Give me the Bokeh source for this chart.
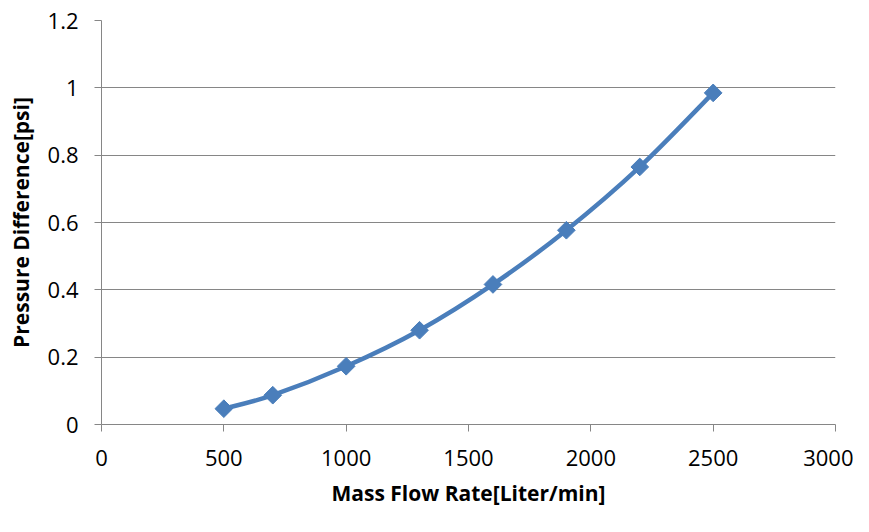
import numpy as np
from bokeh.plotting import figure
from bokeh.models import FixedTicker, Range1d
from bokeh.embed import file_html
from bokeh.resources import INLINE

flow_rate = [500, 700, 1000, 1300, 1600, 1900, 2200, 2500]
pressure_diff = [0.047, 0.087, 0.173, 0.280, 0.416, 0.577, 0.765, 0.985]
x_ticks = [0, 500, 1000, 1500, 2000, 2500, 3000]
y_ticks = [0, 0.2, 0.4, 0.6, 0.8, 1.0, 1.2]
y_tick_labels = ["0", "0.2", "0.4", "0.6", "0.8", "1", "1.2"]

FONT = "Open Sans"
LINE = "#4a7ebb"
GRID = "#868686"

p = figure(width=853, height=516, output_backend="svg", toolbar_location=None,
           x_range=Range1d(0, 3000), y_range=Range1d(0, 1.2),
           min_border_left=101, min_border_right=18, min_border_top=20, min_border_bottom=92)
p.outline_line_color = None
p.background_fill_color = "white"

# smooth curve (Excel-style smoothing) via cubic Bezier segments through the data points
xs = np.array(flow_rate, dtype=float)
ys = np.array(pressure_diff, dtype=float)
n = len(xs)
x0s, y0s, x1s, y1s, cx0, cy0, cx1, cy1 = [], [], [], [], [], [], [], []
for i in range(n - 1):
    pm = i - 1 if i > 0 else i
    pp = i + 2 if i + 2 < n else i + 1
    x0s.append(xs[i]); y0s.append(ys[i])
    x1s.append(xs[i + 1]); y1s.append(ys[i + 1])
    cx0.append(xs[i] + (xs[i + 1] - xs[pm]) / 6.0)
    cy0.append(ys[i] + (ys[i + 1] - ys[pm]) / 6.0)
    cx1.append(xs[i + 1] - (xs[pp] - xs[i]) / 6.0)
    cy1.append(ys[i + 1] - (ys[pp] - ys[i]) / 6.0)
p.bezier(x0=x0s, y0=y0s, x1=x1s, y1=y1s, cx0=cx0, cy0=cy0, cx1=cx1, cy1=cy1,
         line_color=LINE, line_width=4.5)

p.scatter(flow_rate, pressure_diff, marker="square", size=12.5, angle=np.pi / 4,
          fill_color=LINE, line_color=LINE, line_width=1)

# axes
p.xaxis.ticker = FixedTicker(ticks=x_ticks)
p.yaxis.ticker = FixedTicker(ticks=y_ticks)
p.yaxis.major_label_overrides = {t: l for t, l in zip(y_ticks, y_tick_labels)}
p.xaxis.minor_tick_line_color = None
p.yaxis.minor_tick_line_color = None
for ax in (p.xaxis, p.yaxis):
    ax.axis_line_color = GRID
    ax.major_tick_line_color = GRID
    ax.major_tick_out = 7
    ax.major_tick_in = 0
    ax.major_label_text_font = FONT
    ax.major_label_text_font_size = "22px"
    ax.major_label_text_color = "black"
    ax.axis_label_text_font = FONT
    ax.axis_label_text_font_size = "21px"
    ax.axis_label_text_font_style = "bold"
    ax.axis_label_text_color = "black"
p.xaxis.axis_label = "Mass Flow Rate[Liter/min]"
p.yaxis.axis_label = "Pressure Difference[psi]"
p.xaxis.major_label_standoff = 18
p.yaxis.major_label_standoff = 16
p.xaxis.axis_label_standoff = 10
p.yaxis.axis_label_standoff = 10

p.xgrid.grid_line_color = None
p.ygrid.grid_line_color = GRID
p.ygrid.grid_line_width = 1

open("out.html", "w").write(file_html(p, INLINE))
